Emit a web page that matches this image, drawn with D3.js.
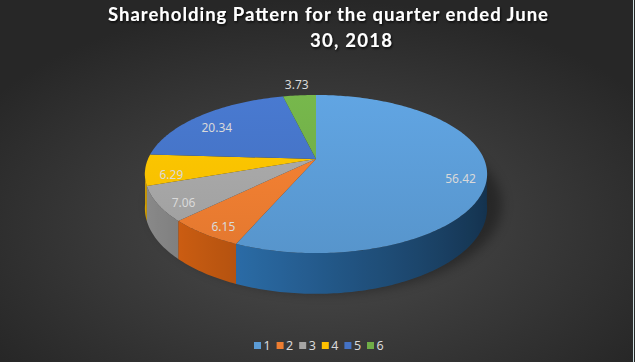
<!DOCTYPE html>
<html>
<head>
<meta charset="utf-8">
<script src="https://cdn.jsdelivr.net/npm/d3@7"></script>
<style>
  body { margin: 0; background: #2b2b2b; }
  svg { display: block; }
</style>
</head>
<body>
<svg id="chart" width="635" height="362"></svg>
<script>
// data
var categories = ['1', '2', '3', '4', '5', '6'];
var shares = [56.42, 6.15, 7.06, 6.29, 20.34, 3.73];
var colors = ['#5B9BD5', '#ED7D31', '#A5A5A5', '#FFC000', '#4472C4', '#70AD47'];
var titleLines = ['Shareholding Pattern for the quarter ended June', '30, 2018'];

var svg = d3.select('#chart');
var width = 635, height = 362;

// pie geometry (perspective tilted disc)
var cx = 316, cy = 159;
var rx = 168, ry = 76.2, persp = 0.19, depth = 33;

function proj(a, r, h) {
  let u = r * Math.sin(a), v = -r * Math.cos(a);
  let w = 1 - persp * v;
  return [cx + rx * u / w, cy + (ry * v + h * depth) / w];
}

var defs = svg.append('defs');

// background
let bg = defs.append('radialGradient')
  .attr('id', 'bg')
  .attr('cx', '50%').attr('cy', '62%').attr('r', '62%');
bg.append('stop').attr('offset', '0%').attr('stop-color', '#4e4e4e');
bg.append('stop').attr('offset', '100%').attr('stop-color', '#272727');
svg.append('rect').attr('width', width).attr('height', height).attr('fill', 'url(#bg)');

defs.append('filter').attr('id', 'blur').attr('x', '-30%').attr('y', '-30%')
  .attr('width', '160%').attr('height', '160%')
  .append('feGaussianBlur').attr('stdDeviation', 6);

let ts = defs.append('filter').attr('id', 'tshadow');
ts.append('feDropShadow').attr('dx', 1).attr('dy', 1.5).attr('stdDeviation', 1.2)
  .attr('flood-color', '#000').attr('flood-opacity', 0.8);

// title
svg.append('g').selectAll('text')
  .data(titleLines)
  .enter().append('text')
  .attr('x', (d, i) => i == 0 ? 328 : 351)
  .attr('y', (d, i) => 21 + i * 26)
  .attr('text-anchor', 'middle')
  .attr('font-family', 'Lato, sans-serif')
  .attr('font-weight', 'bold')
  .attr('font-size', 18.5)
  .attr('textLength', (d, i) => i == 0 ? 440 : 82)
  .attr('lengthAdjust', 'spacing')
  .attr('fill', '#ffffff')
  .attr('filter', 'url(#tshadow)')
  .text(d => d);

var pie = d3.pie().sort(null).value(d => d);
var arcs = pie(shares);

// shadow under the disc
svg.append('ellipse')
  .attr('cx', cx + 10).attr('cy', 205)
  .attr('rx', 176).attr('ry', 88)
  .attr('fill', '#000').attr('opacity', 0.35)
  .attr('filter', 'url(#blur)');

// visible outer wall range
var wallMin = Math.acos(-persp) - 0.05, wallMax = 2 * Math.PI - Math.acos(-persp) + 0.05;
var step = Math.PI / 180;
var xLeft = proj(wallMax, 1, 0)[0], xRight = proj(wallMin, 1, 0)[0];

// side shading: one horizontal gradient per colour, lighter towards the left
function wallColor(base, a) {
  let c = d3.hsl(base);
  c.l = c.l * (0.58 + 0.27 * Math.cos(a - 1.5 * Math.PI));
  return c.formatHex();
}
colors.forEach(function(col, i) {
  let g = defs.append('linearGradient')
    .attr('id', 'wall' + i)
    .attr('gradientUnits', 'userSpaceOnUse')
    .attr('x1', xLeft).attr('y1', 0).attr('x2', xRight).attr('y2', 0);
  for (let a = wallMax; a >= wallMin; a -= step * 4) {
    let x = proj(a, 1, 0)[0];
    g.append('stop')
      .attr('offset', ((x - xLeft) / (xRight - xLeft) * 100).toFixed(2) + '%')
      .attr('stop-color', wallColor(col, a));
  }
});

let walls = svg.append('g');
arcs.forEach(function(d, i) {
  let a0 = Math.max(d.startAngle, wallMin), a1 = Math.min(d.endAngle, wallMax);
  if (a1 <= a0) return;
  let topPts = [], botPts = [];
  for (let a = a0; a < a1; a += step) {
    topPts.push(proj(a, 1, 0));
    botPts.push(proj(a, 1, 1));
  }
  topPts.push(proj(a1, 1, 0));
  botPts.push(proj(a1, 1, 1));
  let pts = topPts.concat(botPts.reverse());
  walls.append('path')
    .attr('d', 'M' + pts.join('L') + 'Z')
    .attr('fill', 'url(#wall' + i + ')');
});

// top faces
let tops = svg.append('g');
arcs.forEach(function(d, i) {
  let g = defs.append('linearGradient')
    .attr('id', 'top' + i)
    .attr('gradientUnits', 'userSpaceOnUse')
    .attr('x1', 0).attr('y1', 95).attr('x2', 0).attr('y2', 253);
  g.append('stop').attr('offset', '0%').attr('stop-color', d3.color(colors[i]).brighter(0.18).formatHex());
  g.append('stop').attr('offset', '100%').attr('stop-color', d3.color(colors[i]).darker(0.12).formatHex());
  let pts = [[cx, cy]];
  for (let a = d.startAngle; a < d.endAngle; a += step) pts.push(proj(a, 1, 0));
  pts.push(proj(d.endAngle, 1, 0));
  tops.append('path')
    .attr('d', 'M' + pts.join('L') + 'Z')
    .attr('fill', 'url(#top' + i + ')');
});

// data labels
svg.append('g').selectAll('text')
  .data(arcs)
  .enter().append('text')
  .attr('transform', d => {
    let m = (d.startAngle + d.endAngle) / 2;
    let outside = d.value < 5;
    let p = proj(m, outside ? 1.2 : 0.85, 0);
    return 'translate(' + p[0] + ',' + (p[1] + (outside ? 0 : 6)) + ')';
  })
  .attr('text-anchor', 'middle')
  .attr('dominant-baseline', 'central')
  .attr('font-family', 'Noto Sans, sans-serif')
  .attr('font-size', 12)
  .attr('fill', '#d9d9d9')
  .text(d => d.value.toFixed(2));

// legend
let lx = d3.scalePoint().domain(categories).range([254, 367]);
let lg = svg.append('g').selectAll('g')
  .data(categories)
  .enter().append('g')
  .attr('transform', d => 'translate(' + lx(d) + ',342)');
lg.append('rect').attr('width', 7).attr('height', 7)
  .attr('fill', (d, i) => colors[i]);
lg.append('text')
  .attr('x', 9.5).attr('y', 7.5)
  .attr('font-family', 'Noto Sans, sans-serif')
  .attr('font-size', 12.5)
  .attr('fill', '#d9d9d9')
  .text(d => d);

// thin frame edge on the right
svg.append('line')
  .attr('x1', 633.5).attr('x2', 633.5).attr('y1', 0).attr('y2', height)
  .attr('stroke', '#cfe0e3').attr('stroke-width', 1);
</script>
</body>
</html>
